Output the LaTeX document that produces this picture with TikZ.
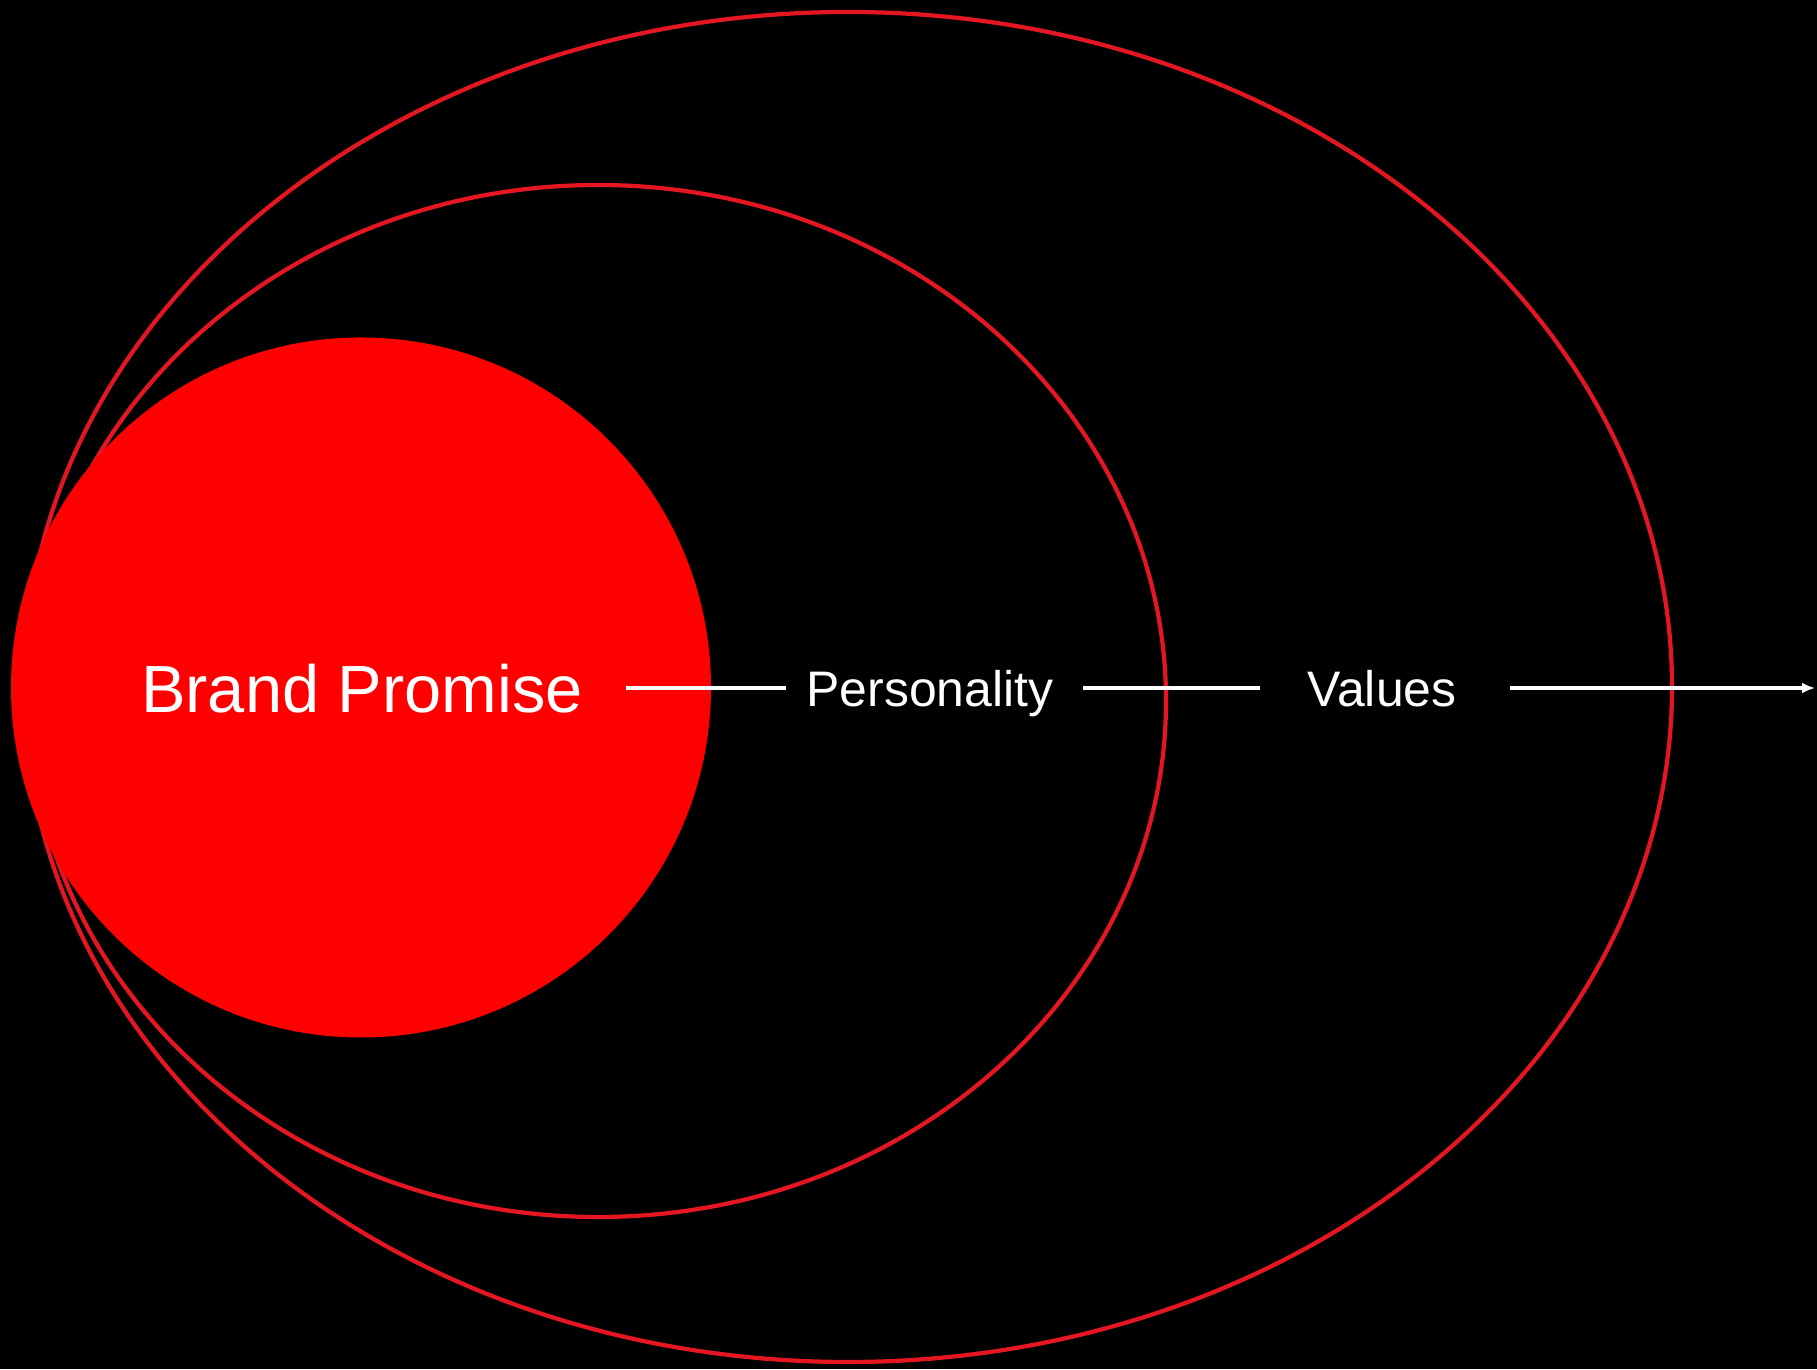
\documentclass[tikz,border=0pt]{standalone}
\usepackage{fontspec}
\setmainfont{Liberation Sans}
\usepackage{tikz}
\usetikzlibrary{positioning, arrows.meta}
\usepackage{xcolor}
\definecolor{ringred}{RGB}{228,22,34}
\definecolor{corered}{RGB}{255,0,0}

\begin{document}
\begin{tikzpicture}[
    ring/.style={draw=ringred, line width=1.2pt},
    label/.style={text=white, inner sep=0pt, text depth=0pt},
    link/.style={draw=white, line width=0.9pt}
  ]

  % Frame and background
  \useasboundingbox (0,0) rectangle (18.17,13.69);
  \fill[black] (0,0) rectangle (18.17,13.69);

  % Centres
  \coordinate (Core) at (3.61,6.815);
  \coordinate (Mid) at (5.98,6.68);
  \coordinate (Outer) at (8.48,6.82);
  \coordinate (Tip) at (18.15,6.81);

  % Rings
  \draw[ring] (Outer) ellipse (8.24 and 6.75);
  \draw[ring] (Mid) ellipse (5.68 and 5.16);

  % Core disc
  \fill[corered] (Core) circle (3.50);

  % Labels
  \node[label, font=\fontsize{19}{23}\selectfont] (promise) at (3.62,6.81) {Brand Promise};
  \node[label, font=\fontsize{14.2}{17}\selectfont] (personality) at (9.30,6.81) {Personality};
  \node[label, font=\fontsize{14.2}{17}\selectfont] (values) at (13.82,6.81) {Values};

  % Connectors
  \draw[link, shorten <=0.42cm, shorten >=0.20cm] (promise) -- (personality);
  \draw[link, shorten <=0.29cm, shorten >=0.47cm] (personality) -- (values);
  \draw[link, shorten <=0.53cm, -{Latex[length=1.3mm,width=1.1mm]}] (values) -- (Tip);

\end{tikzpicture}
\end{document}
